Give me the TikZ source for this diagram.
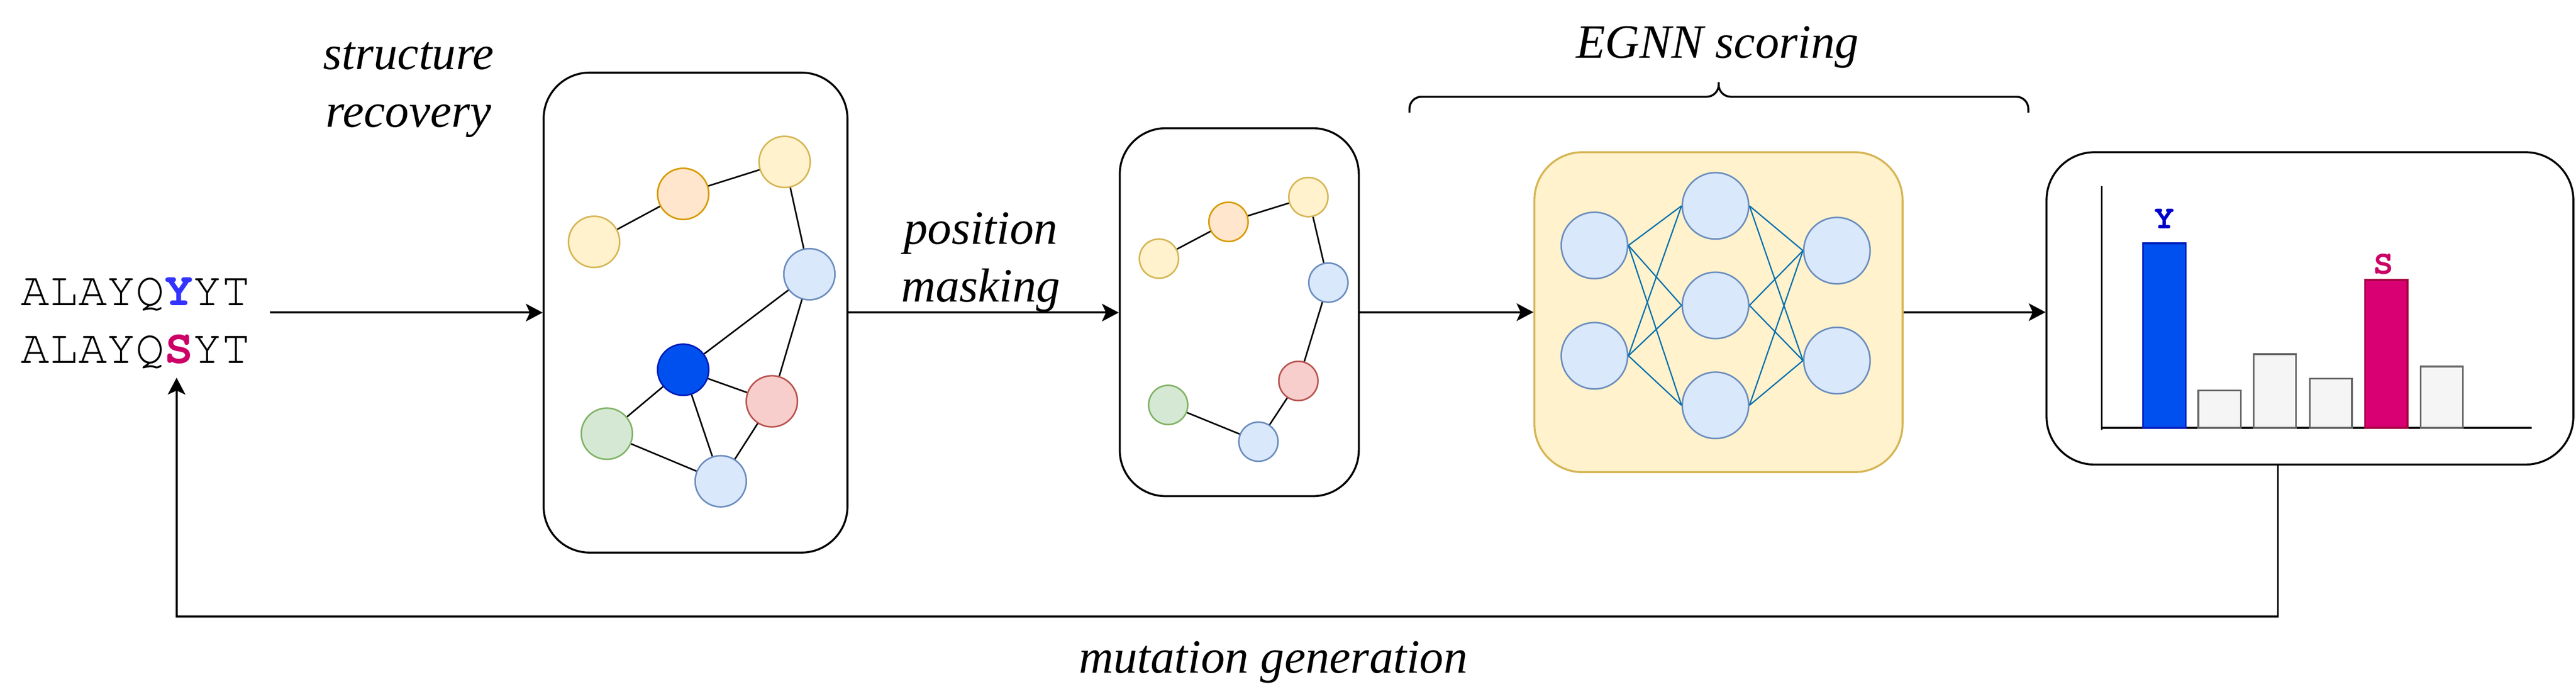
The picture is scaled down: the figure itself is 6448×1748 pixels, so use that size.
\documentclass[tikz,border=0pt]{standalone}
\usepackage[T1]{fontenc}
\usepackage{fontspec}
\setmainfont{Liberation Serif}
\newcommand\courfont{\fontencoding{T1}\fontfamily{pcr}\selectfont}
\usetikzlibrary{arrows.meta}
\definecolor{yfill}{HTML}{FFF2CC}\definecolor{ystroke}{HTML}{D6B656}
\definecolor{ofill}{HTML}{FFE6CC}\definecolor{ostroke}{HTML}{D79B00}
\definecolor{bfill}{HTML}{DAE8FC}\definecolor{bstroke}{HTML}{6C8EBF}
\definecolor{dbfill}{HTML}{0050EF}\definecolor{dbstroke}{HTML}{001DBC}
\definecolor{rfill}{HTML}{F8CECC}\definecolor{rstroke}{HTML}{B85450}
\definecolor{gfill}{HTML}{D5E8D4}\definecolor{gstroke}{HTML}{82B366}
\definecolor{nnedgec}{HTML}{006EAF}
\definecolor{magfill}{HTML}{D80073}\definecolor{magstroke}{HTML}{A50040}
\definecolor{grayfill}{HTML}{F5F5F5}\definecolor{graystroke}{HTML}{666666}
\definecolor{seqY}{HTML}{3333FF}\definecolor{seqS}{HTML}{CC0066}
\definecolor{lblY}{HTML}{0000CC}
\begin{document}
\begin{tikzpicture}[x=0.01cm,y=-0.01cm,
  lbl/.style={font=\fontsize{34}{41}\selectfont\itshape, align=center, inner sep=0, anchor=base},
  seqtext/.style={font=\courfont\fontsize{34}{41}\selectfont, align=left, anchor=base west, inner sep=0},
  frame/.style={draw=black, line width=1.4pt, rounded corners=1.15cm, inner sep=0},
  nnframe/.style={draw=ystroke, fill=yfill, line width=1.4pt, rounded corners=1.2cm, inner sep=0},
  arr/.style={line width=1.4pt, -{Stealth[length=4.2mm,width=4.4mm,inset=1mm]}},
  gnode/.style={circle, line width=1.1pt, minimum size=1.28cm, inner sep=0},
  snode/.style={circle, line width=1.1pt, minimum size=0.98cm, inner sep=0},
  nnode/.style={circle, line width=1.1pt, minimum size=1.66cm, inner sep=0, draw=bstroke, fill=bfill},
  cyel/.style={draw=ystroke, fill=yfill},
  corg/.style={draw=ostroke, fill=ofill},
  cblu/.style={draw=bstroke, fill=bfill},
  cdbl/.style={draw=dbstroke, fill=dbfill},
  cred/.style={draw=rstroke, fill=rfill},
  cgrn/.style={draw=gstroke, fill=gfill},
  gedge/.style={line width=1.1pt},
  nnedge/.style={line width=0.9pt, draw=nnedgec},
  brace/.style={line width=1.4pt, rounded corners=0.3cm},
  chartaxis/.style={line width=1.3pt},
  graybar/.style={line width=1.3pt, draw=graystroke, fill=grayfill},
  barlbl/.style={font=\courfont\fontsize{24}{24}\selectfont\bfseries, anchor=base, inner sep=0}
]
\useasboundingbox (0,0) rectangle (6448,1748);

% text labels (base anchor = baseline of the last line)
\node[lbl] (lsr) at (1023,318) {structure\\recovery};
\node[lbl] (lpm) at (2455,755) {position\\masking};
\node[lbl] (legnn) at (4299,145) {EGNN scoring};
\node[lbl] (lmg) at (3187,1683) {mutation generation};

% sequences
\node[seqtext] (seq) at (52,908) {ALAYQ{\bfseries\color{seqY}Y}YT\\ALAYQ{\bfseries\color{seqS}S}YT};

% frames
\node[frame, minimum width=7.6cm, minimum height=12cm] (box1) at (1741,782) {};
\node[frame, minimum width=5.98cm, minimum height=9.2cm] (box2) at (3102,781) {};
\node[nnframe, minimum width=9.21cm, minimum height=8cm] (nn) at (4301.5,781) {};
\node[frame, minimum width=13.18cm, minimum height=7.81cm, rounded corners=1.2cm] (box4) at (5782,771.5) {};

% graph in box 1
\node[gnode,cyel] (a1) at (1487,605) {};
\node[gnode,corg] (b1) at (1710,485) {};
\node[gnode,cyel] (c1) at (1964,405) {};
\node[gnode,cblu] (d1) at (2026,686) {};
\node[gnode,cdbl] (e1) at (1710,925) {};
\node[gnode,cred] (f1) at (1932,1004) {};
\node[gnode,cgrn] (g1) at (1519,1085) {};
\node[gnode,cblu] (h1) at (1804,1204) {};
\draw[gedge] (a1) -- (b1) (b1) -- (c1) (c1) -- (d1) (d1) -- (e1) (d1) -- (f1)
  (e1) -- (f1) (e1) -- (g1) (e1) -- (h1) (g1) -- (h1) (f1) -- (h1);

% graph in box 2
\node[snode,cyel] (a2) at (2901,647) {};
\node[snode,corg] (b2) at (3075,555) {};
\node[snode,cyel] (c2) at (3275,493) {};
\node[snode,cblu] (d2) at (3325,707) {};
\node[snode,cred] (f2) at (3250,953) {};
\node[snode,cblu] (h2) at (3150,1105) {};
\node[snode,cgrn] (g2) at (2924,1013) {};
\draw[gedge] (a2) -- (b2) (b2) -- (c2) (c2) -- (d2) (d2) -- (f2) (f2) -- (h2) (h2) -- (g2);

% neural network
\node[nnode] (n11) at (3991,614) {};
\node[nnode] (n12) at (3991,890) {};
\node[nnode] (n21) at (4294,515) {};
\node[nnode] (n22) at (4294,764) {};
\node[nnode] (n23) at (4294,1014) {};
\node[nnode] (n31) at (4598,627) {};
\node[nnode] (n32) at (4598,902) {};
\foreach \i in {n11,n12}{\foreach \j in {n21,n22,n23}{\draw[nnedge] (\i.east) -- (\j.west);}}
\foreach \j in {n21,n22,n23}{\foreach \k in {n31,n32}{\draw[nnedge] (\j.east) -- (\k.west);}}

% brace
\draw[brace] (3528,282) -- (3528,242) -- (4302,242) -- (4302,206);
\draw[brace] (5077,282) -- (5077,242) -- (4302,242) -- (4302,206);

% chart
\draw[chartaxis] (5261,466) -- (5261,1075);
\draw[chartaxis] (5261,1070) -- (6337,1070);
\draw[line width=1.3pt, draw=dbstroke, fill=dbfill] (5364,609) rectangle (5471,1070);
\draw[graybar] (5503,977) rectangle (5609,1070);
\draw[graybar] (5641,886) rectangle (5747,1070);
\draw[graybar] (5782,947) rectangle (5887,1070);
\draw[line width=1.3pt, draw=magstroke, fill=magfill] (5920,700) rectangle (6026,1070);
\draw[graybar] (6059,917) rectangle (6165,1070);
\node[barlbl, text=lblY] (ylab) at (5418,572) {Y};
\node[barlbl, text=seqS] (slab) at (5966,685) {S};

% connectors
\coordinate (seqout) at (676,782);
\draw[arr] (seqout) -- (box1.west);
\draw[arr] (box1.east) -- (box1.east -| box2.west);
\draw[arr] (box2.east) -- (box2.east -| nn.west);
\draw[arr] (nn.east) -- (nn.east -| box4.west);
\coordinate (fbturn) at (5702,1542);
\coordinate (fbend) at (442,945);
\draw[arr] (box4.south -| fbturn) -- (fbturn) -| (fbend);
\end{tikzpicture}
\end{document}
